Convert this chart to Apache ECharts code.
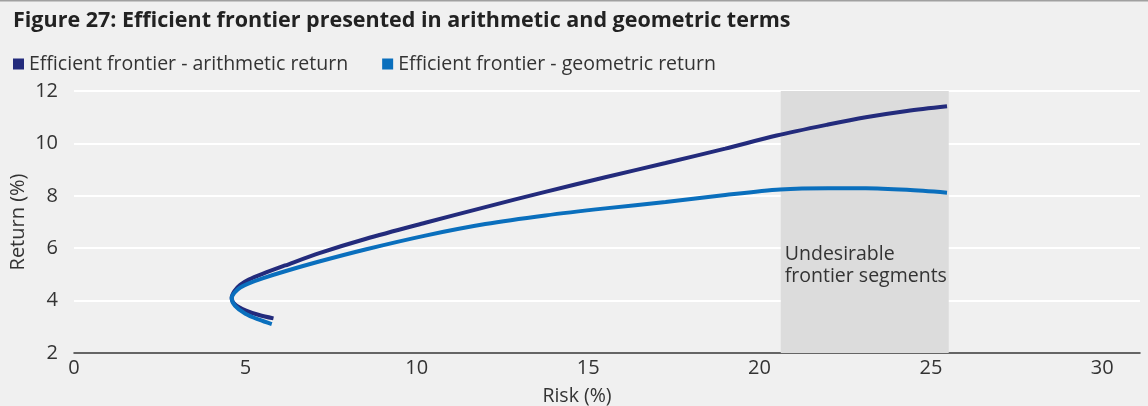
<!DOCTYPE html>
<html>
<head>
<meta charset="utf-8">
<script src="https://cdn.jsdelivr.net/npm/echarts@6/dist/echarts.min.js"></script>
<style>
html,body{margin:0;padding:0;background:#f0f0f0;}
#c{width:1148px;height:406px;}
</style>
</head>
<body>
<div id="c"></div>
<script>
const titleText = 'Figure 27: Efficient frontier presented in arithmetic and geometric terms';
const seriesNames = ['Efficient frontier - arithmetic return', 'Efficient frontier - geometric return'];
const xTickLabels = ['0', '5', '10', '15', '20', '25', '30'];
const yTickLabels = ['2', '4', '6', '8', '10', '12'];
const arithRisk   = [5.82, 5.4, 5.0, 4.7, 4.6, 4.68, 4.85, 5.1, 5.5, 6.16, 7.18, 8.5, 10.25, 12.0, 13.75, 15.5, 17.26, 19.0, 20.5, 22.0, 23.1, 24.3, 25.47];
const arithReturn = [3.32, 3.45, 3.63, 3.85, 4.1, 4.36, 4.6, 4.8, 5.02, 5.34, 5.82, 6.35, 6.97, 7.57, 8.15, 8.71, 9.25, 9.8, 10.3, 10.72, 11.0, 11.24, 11.42];
const geoRisk     = [5.77, 5.4, 5.0, 4.7, 4.6, 4.68, 4.85, 5.1, 5.5, 6.16, 7.18, 8.5, 10.25, 12.0, 13.75, 15.5, 17.26, 19.0, 20.6, 22.0, 23.1, 24.3, 25.47];
const geoReturn   = [3.10, 3.27, 3.5, 3.8, 4.1, 4.3, 4.5, 4.66, 4.85, 5.12, 5.5, 5.95, 6.48, 6.92, 7.25, 7.52, 7.76, 8.03, 8.24, 8.29, 8.29, 8.23, 8.12];
const shadeRange  = [20.62, 25.52];
const shadeLabel  = 'Undesirable\nfrontier segments';
const colors = ['#232b7c', '#0a6fbd'];

const chart = echarts.init(document.getElementById('c'), null, {renderer:'canvas'});
const pairs = (xs, ys) => xs.map((x, i) => [x, ys[i]]);
const font = 'Open Sans';
chart.setOption({
  backgroundColor: '#f0f0f0',
  animation: false,
  textStyle: {fontFamily: font},
  graphic: [{type: 'rect', left: 0, top: 0, shape: {width: 1148, height: 1.5}, style: {fill: '#a0a0a0'}, silent: true}],
  title: {
    text: titleText, left: 8, top: 5,
    textStyle: {fontFamily: font, fontWeight: 'bold', fontSize: 21.5, color: '#222'}
  },
  legend: {
    left: 8, top: 49, itemWidth: 11, itemHeight: 11, itemGap: 34,
    icon: 'rect',
    textStyle: {fontFamily: font, fontSize: 19.5, color: '#333'},
    data: seriesNames
  },
  grid: {left: 74, right: 8, top: 91, bottom: 53, containLabel: false, outerBoundsMode: 'none'},
  xAxis: {
    type: 'value', min: 0, max: 31.1, interval: 5,
    name: 'Risk (%)', nameLocation: 'middle', nameGap: 33, nameMoveOverlap: false,
    nameTextStyle: {fontSize: 19.5, color: '#333', padding: [0, 60, 0, 0]},
    axisLine: {show: true, lineStyle: {color: '#333', width: 1.5}},
    axisTick: {show: false},
    splitLine: {show: false},
    axisLabel: {fontSize: 20, color: '#333', margin: 5, showMaxLabel: false,
      formatter: v => xTickLabels[Math.round(v / 5)] || ''}
  },
  yAxis: {
    type: 'value', min: 2, max: 12, interval: 2,
    name: 'Return (%)', nameLocation: 'middle', nameGap: 46, nameRotate: 90, nameMoveOverlap: false,
    nameTextStyle: {fontSize: 20, color: '#333'},
    axisLine: {show: false}, axisTick: {show: false},
    splitLine: {show: true, lineStyle: {color: '#ffffff', width: 2}},
    axisLabel: {fontSize: 20, color: '#333', margin: 16, padding: [6, 0, 0, 0],
      formatter: v => yTickLabels[Math.round((v - 2) / 2)] || ''}
  },
  series: [
    {
      name: seriesNames[0], type: 'line', data: pairs(arithRisk, arithReturn),
      smooth: 0.3, showSymbol: false, symbol: 'none',
      lineStyle: {color: colors[0], width: 4}, itemStyle: {color: colors[0]},
      z: 3,
      markArea: {
        silent: true,
        itemStyle: {color: '#dcdcdc'},
        label: {show: true, position: [4, 152], align: 'left', verticalAlign: 'top',
          fontSize: 19.5, lineHeight: 22, color: '#333', fontFamily: font},
        data: [[{xAxis: shadeRange[0], name: shadeLabel}, {xAxis: shadeRange[1]}]]
      }
    },
    {
      name: seriesNames[1], type: 'line', data: pairs(geoRisk, geoReturn),
      smooth: 0.3, showSymbol: false, symbol: 'none',
      lineStyle: {color: colors[1], width: 4}, itemStyle: {color: colors[1]},
      z: 4
    }
  ]
});
</script>
</body>
</html>
